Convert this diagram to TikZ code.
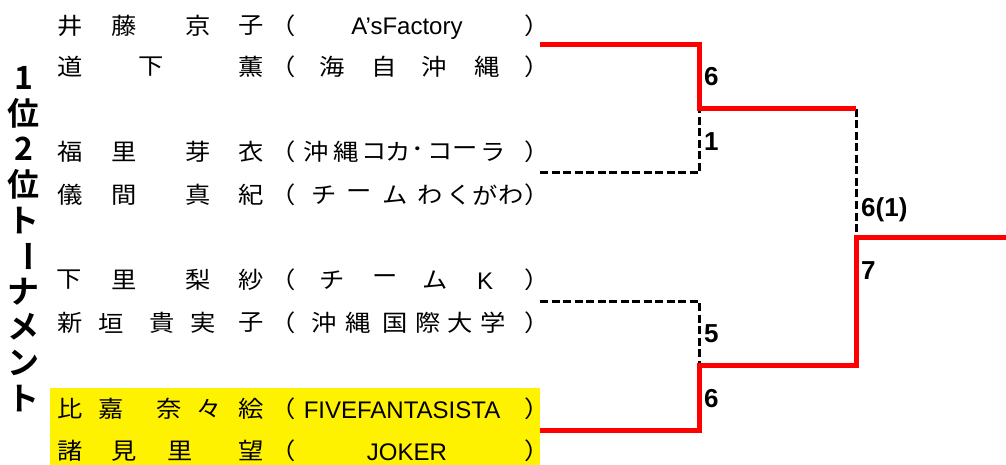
\documentclass[tikz,border=0pt]{standalone}
\usepackage{fontspec}
\setmainfont{Liberation Sans}
\newfontfamily\jpfont[FakeStretch=1.1]{Noto Sans CJK JP}
\newfontfamily\jpbold{Noto Sans CJK JP Bold}

% one row of spread-out characters: prefix, y, list of x/char
\newcommand\namerow[3]{%
  \foreach \x/\c [count=\k] in {#3}
    \node[jp] (#1-\k) at (\x,#2) {\c};}

\begin{document}
\begin{tikzpicture}[x=1pt,y=-1pt,
		jp/.style={font=\jpfont\fontsize{23}{23}\selectfont, inner sep=0pt},
		lat/.style={font=\fontsize{24}{24}\selectfont, inner sep=0pt, anchor=base},
		ttl/.style={font=\jpbold\fontsize{32}{32}\selectfont, inner sep=0pt},
		score/.style={font=\bfseries\fontsize{26}{26}\selectfont, inner sep=0pt, anchor=base west},
		win/.style={draw=red, line width=5pt},
		lose/.style={draw=black, line width=3pt, dash pattern=on 8pt off 3.5pt}
	]
	\fill[white] (0,0) rectangle (1006,465);
	\useasboundingbox (0,0) rectangle (1006,465);
	\fill[yellow] (50,388) rectangle (540,465);

	% title
	\foreach \c/\r [count=\k] in {1/0,位/0,2/0,位/0,ト/0,ー/-90,ナ/0,メ/0,ン/0,ト/0}
		\node[ttl, rotate=\r] (t\k) at (24,{78+35.6*(\k-1)}) {\c};

	% players
	\namerow{a}{26}{70/井,124/藤,198/京,251/子,283.5/（,537/）}
	\node[lat] (a-team) at (407,35) {A’sFactory};
	\namerow{b}{67}{70/道,151/下,251/薫,283.5/（,332/海,384/自,434/沖,487/縄,537/）}
	\namerow{c}{152}{70/福,124/里,198/芽,251/衣,283.5/（,316/沖,346/縄,374/コ,398/カ,418/･,440/コ,465/ー,493/ラ,537/）}
	\namerow{d}{195}{70/儀,124/間,198/真,251/紀,283.5/（,324/チ,359/ー,395/ム,430/わ,459/く,485/が,511/わ,537/）}
	\namerow{e}{280}{69/下,124/里,198/梨,251/紗,283.5/（,332/チ,385/ー,435/ム,537/）}
	\node[lat] (e-team) at (485,289) {K};
	\namerow{f}{323}{70/新,111/垣,162/貴,203/実,251/子,283.5/（,324/沖,358/縄,395/国,428/際,460/大,493/学,537/）}
	\namerow{g}{409}{70/比,111/嘉,169/奈,209/々,251/絵,283.5/（,537/）}
	\node[lat] (g-team) at (402,418) {FIVEFANTASISTA};
	\namerow{h}{451}{70/諸,124/見,180/里,251/望,283.5/（,537/）}
	\node[lat] (h-team) at (407,460) {JOKER};

	% bracket
	\coordinate (m1) at (540,45);
	\coordinate (m2) at (540,173);
	\coordinate (m3) at (540,301);
	\coordinate (m4) at (540,430);
	\coordinate (j1) at (699,109);
	\coordinate (j2) at (699,365);
	\coordinate (k1) at (856,109);
	\coordinate (j3) at (856,237);
	\coordinate (end) at (1006,237);

	\draw[lose] (m2) -| (j1);
	\draw[lose] (m3) -| (j2);
	\draw[lose] (k1) -- (j3);
	\draw[win] (m1) -| (j1) -- (k1);
	\draw[win] (m4) -| (j2) -| (j3) -- (end);

	% scores
	\node[score] (s1) at (704,86) {6};
	\node[score] (s2) at (704,151) {1};
	\node[score] (s3) at (704,342) {5};
	\node[score] (s4) at (704,407) {6};
	\node[score] (s5) at (861,216) {6(1)};
	\node[score] (s6) at (861,279) {7};
\end{tikzpicture}
\end{document}
